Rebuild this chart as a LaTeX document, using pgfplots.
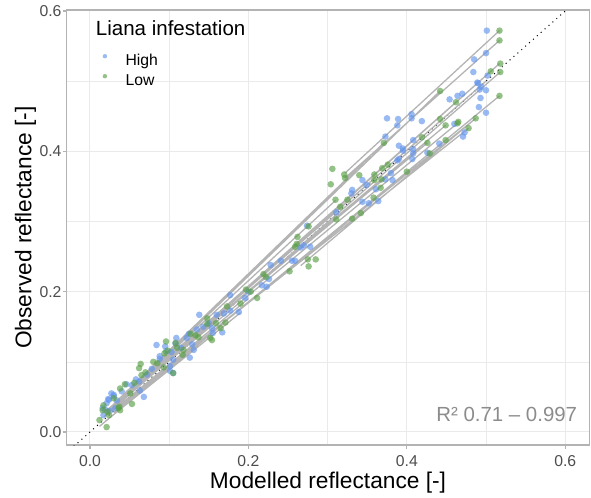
\documentclass[border=0pt]{standalone}
\usepackage{pgfplots}
\usepackage{pgfplotstable}
\pgfplotsset{compat=1.18}
\usepackage{fontspec}
\setmainfont{Liberation Sans}

\definecolor{highblue}{RGB}{100,149,237}
\definecolor{lowgreen}{RGB}{90,160,70}
\definecolor{fitgray}{RGB}{180,180,180}
\definecolor{gridc}{RGB}{234,234,234}
\definecolor{framec}{RGB}{179,179,179}
\definecolor{tickc}{RGB}{77,77,77}
\definecolor{rtext}{RGB}{140,140,140}

% observed vs modelled reflectance, trees with high liana infestation
\pgfplotstableread{
mod obs
0.501 0.572
0.500 0.540
0.485 0.531
0.484 0.513
0.502 0.508
0.489 0.498
0.490 0.497
0.494 0.492
0.492 0.488
0.500 0.487
0.493 0.476
0.454 0.474
0.464 0.479
0.470 0.482
0.491 0.463
0.500 0.455
0.375 0.447
0.389 0.446
0.388 0.437
0.406 0.453
0.406 0.447
0.419 0.443
0.460 0.439
0.473 0.427
0.471 0.421
0.373 0.421
0.408 0.416
0.441 0.411
0.395 0.404
0.408 0.403
0.408 0.397
0.426 0.398
0.390 0.389
0.407 0.389
0.390 0.408
0.395 0.401
0.388 0.387
0.380 0.369
0.382 0.359
0.373 0.360
0.344 0.359
0.349 0.352
0.331 0.345
0.330 0.340
0.361 0.346
0.364 0.329
0.344 0.328
0.352 0.326
0.311 0.313
0.274 0.294
0.266 0.263
0.270 0.266
0.278 0.264
0.255 0.244
0.259 0.244
0.228 0.238
0.241 0.244
0.226 0.218
0.217 0.209
0.223 0.207
0.177 0.195
0.196 0.191
0.138 0.167
0.160 0.167
0.169 0.169
0.177 0.173
0.188 0.171
0.143 0.150
0.154 0.148
0.155 0.141
0.167 0.142
0.122 0.134
0.129 0.125
0.131 0.117
0.126 0.106
0.084 0.124
0.095 0.122
0.103 0.114
0.088 0.104
0.101 0.087
0.109 0.134
0.108 0.126
0.096 0.115
0.088 0.108
0.101 0.094
0.105 0.084
0.105 0.103
0.046 0.068
0.053 0.067
0.063 0.059
0.068 0.050
0.027 0.055
0.024 0.046
0.030 0.051
0.034 0.045
0.019 0.032
0.025 0.030
0.032 0.034
0.017 0.024
0.023 0.047
0.030 0.053
0.021 0.041
0.016 0.034
0.040 0.058
0.058 0.075
0.072 0.082
0.115 0.120
0.125 0.140
0.150 0.155
0.200 0.200
0.062 0.072
0.078 0.090
0.135 0.146
}\highdata

% observed vs modelled reflectance, trees with low liana infestation
\pgfplotstableread{
mod obs
0.517 0.572
0.517 0.558
0.518 0.525
0.506 0.514
0.518 0.513
0.517 0.479
0.442 0.486
0.462 0.470
0.487 0.447
0.442 0.446
0.449 0.437
0.464 0.440
0.465 0.442
0.478 0.433
0.371 0.412
0.419 0.420
0.426 0.412
0.449 0.416
0.429 0.397
0.306 0.375
0.304 0.353
0.321 0.367
0.322 0.362
0.340 0.366
0.359 0.367
0.369 0.376
0.376 0.381
0.359 0.359
0.368 0.360
0.367 0.348
0.358 0.334
0.310 0.331
0.325 0.331
0.316 0.321
0.311 0.303
0.331 0.304
0.342 0.312
0.400 0.371
0.276 0.293
0.262 0.278
0.261 0.268
0.259 0.264
0.275 0.246
0.285 0.246
0.276 0.236
0.252 0.229
0.219 0.225
0.222 0.221
0.197 0.203
0.203 0.200
0.211 0.191
0.190 0.183
0.173 0.179
0.148 0.162
0.148 0.154
0.159 0.155
0.171 0.156
0.165 0.148
0.127 0.140
0.133 0.138
0.137 0.135
0.152 0.134
0.154 0.131
0.096 0.129
0.108 0.127
0.118 0.117
0.117 0.110
0.093 0.092
0.105 0.084
0.098 0.116
0.094 0.112
0.064 0.097
0.062 0.091
0.065 0.081
0.038 0.062
0.044 0.068
0.051 0.055
0.053 0.040
0.017 0.038
0.016 0.031
0.022 0.029
0.036 0.034
0.038 0.031
0.024 0.024
0.012 0.017
0.021 0.007
0.030 0.048
0.037 0.036
0.080 0.100
0.070 0.085
0.110 0.120
0.056 0.070
0.085 0.098
}\lowdata

% per-tree fitted lines, one segment per tree (nan separates segments)
\pgfplotstableread{
mod obs
0.020 0.028
0.517 0.525
nan nan
0.018 0.022
0.518 0.513
nan nan
0.025 0.030
0.506 0.514
nan nan
0.022 0.030
0.500 0.500
nan nan
0.030 0.028
0.517 0.479
nan nan
0.035 0.035
0.487 0.447
nan nan
0.028 0.030
0.478 0.433
nan nan
0.025 0.032
0.464 0.440
nan nan
0.030 0.040
0.449 0.437
nan nan
0.040 0.048
0.442 0.486
nan nan
0.020 0.030
0.426 0.412
nan nan
0.040 0.050
0.419 0.420
nan nan
0.030 0.040
0.371 0.412
nan nan
0.322 0.369
0.517 0.572
nan nan
0.322 0.362
0.517 0.558
nan nan
0.266 0.237
0.487 0.447
nan nan
0.012 0.008
0.170 0.156
nan nan
0.019 0.015
0.190 0.170
nan nan
0.050 0.060
0.380 0.370
nan nan
0.045 0.045
0.200 0.190
nan nan
0.020 0.025
0.160 0.160
nan nan
0.060 0.070
0.310 0.330
}\fitlines

\begin{document}
\begin{tikzpicture}
\begin{axis}[
  scale only axis,
  width=522.6bp, height=435bp,
  xmin=-0.0294, xmax=0.6304,
  ymin=-0.01853, ymax=0.6014,
  xtick={0,0.2,0.4,0.6}, ytick={0,0.2,0.4,0.6},
  xticklabels={0.0,0.2,0.4,0.6}, yticklabels={0.0,0.2,0.4,0.6},
  minor xtick={0.1,0.3,0.5}, minor ytick={0.1,0.3,0.5},
  grid=both,
  major grid style={gridc, line width=1bp},
  minor grid style={gridc, line width=0.6bp},
  axis line style={framec, line width=1.3bp},
  tick pos=left, tick align=outside,
  major tick length=4bp, minor tick length=0pt,
  tick style={framec, line width=1.1bp},
  /pgf/number format/assume math mode=true,
  ticklabel style={font=\fontsize{15.8}{18}\selectfont, text=tickc, inner sep=0pt},
  xticklabel style={anchor=base, yshift=-17.5bp},
  yticklabel style={anchor=east, xshift=-1bp},
  xlabel={Modelled reflectance [-]},
  ylabel={Observed reflectance [-]},
  label style={font=\fontsize{22.8}{26}\selectfont, inner sep=0pt},
  xlabel style={at={(axis description cs:0.5,-0.1)}, anchor=base},
  ylabel style={at={(axis description cs:-0.0674,0.5)}, anchor=base},
  legend cell align=left,
  legend image code/.code={\draw[#1, mark size=2.2bp, yshift=5.5bp] plot coordinates {(0bp,0bp)};},
  legend style={at={(rel axis cs:0,1)}, anchor=north west,
    xshift=36bp, yshift=-43.7bp, draw=none, fill=none,
    inner sep=0pt, outer sep=0pt, row sep=4bp,
    font=\fontsize{15.8}{18}\selectfont,
    nodes={inner sep=0pt, text height=12bp, text depth=4bp},
    /tikz/every odd column/.append style={column sep=18.4bp}},
]
% 1:1 reference line
\addplot[black, line width=1bp, dash pattern=on 1bp off 4.2bp, forget plot]
  coordinates {(-0.05,-0.05) (0.7,0.7)};
% fitted lines
\addplot[fitgray, line width=1.3bp, unbounded coords=jump, forget plot]
  table[x=mod, y=obs] {\fitlines};
% observations
\addplot[only marks, mark=*, mark size=3.3bp, draw=none, fill=highblue,
  fill opacity=0.65, draw opacity=0] table[x=mod, y=obs] {\highdata};
\addlegendentry{High}
\addplot[only marks, mark=*, mark size=3.3bp, draw=none, fill=lowgreen,
  fill opacity=0.65, draw opacity=0] table[x=mod, y=obs] {\lowdata};
\addlegendentry{Low}
\node[anchor=base west, inner sep=0pt, font=\fontsize{20.6}{24}\selectfont]
  at (rel axis cs:0,1) [xshift=29bp, yshift=-26bp] {Liana infestation};
\node[anchor=base east, inner sep=0pt, text=rtext, font=\fontsize{20.5}{24}\selectfont]
  at (rel axis cs:1,0) [xshift=-12bp, yshift=23.5bp] {R² 0.71 – 0.997};
\end{axis}
\pgfresetboundingbox
\path (-66.7bp,-53bp) rectangle (524.3bp,445bp);
\end{tikzpicture}
\end{document}
